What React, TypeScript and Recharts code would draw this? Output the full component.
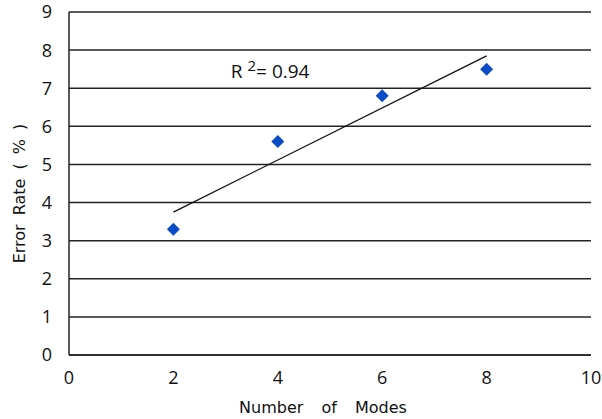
import React from "react";
import {
  ComposedChart,
  Scatter,
  XAxis,
  YAxis,
  CartesianGrid,
  ReferenceDot,
} from "recharts";

const modes = [2, 4, 6, 8];
const errorRates = [3.3, 5.6, 6.8, 7.5];
const trendX = [2, 8];
const trendY = [3.75, 7.85];
const xTicks = [0, 2, 4, 6, 8, 10];
const yTicks = [0, 1, 2, 3, 4, 5, 6, 7, 8, 9];
const r2Label = "0.94";
const r2Pos = { x: 3.1, y: 7.27 };

const points = modes.map((m, i) => ({ x: m, y: errorRates[i] }));
const trend = trendX.map((m, i) => ({ x: m, y: trendY[i] }));

const tickFont = { fontFamily: "'Open Sans', sans-serif", fontSize: 18, fill: "#111" };

const Diamond = (props: any) => {
  const { cx, cy, fill } = props;
  const h = 6.5;
  return (
    <polygon
      points={`${cx},${cy - h} ${cx + h},${cy} ${cx},${cy + h} ${cx - h},${cy}`}
      fill={fill}
    />
  );
};

const R2Text = (props: any) => {
  const { cx, cy } = props;
  return (
    <text x={cx} y={cy} fontFamily="'Open Sans', sans-serif" fontSize={19} fill="#111">
      <tspan>R </tspan>
      <tspan dy={-7} fontSize={15}>2</tspan>
      <tspan dy={7}>= {r2Label}</tspan>
    </text>
  );
};

const XTitle = (props: any) => {
  const { viewBox } = props;
  return (
    <text
      x={viewBox.x + viewBox.width / 2 - 7}
      y={413}
      textAnchor="middle"
      fontFamily="'DejaVu Sans', sans-serif"
      fontSize={16}
      fill="#111"
      style={{ wordSpacing: 13 }}
    >
      Number of Modes
    </text>
  );
};

const YTitle = (props: any) => {
  const { viewBox } = props;
  const cy = viewBox.y + viewBox.height / 2 + 10;
  return (
    <text
      x={25}
      y={cy}
      transform={`rotate(-90, 25, ${cy})`}
      textAnchor="middle"
      fontFamily="'DejaVu Sans', sans-serif"
      fontSize={16}
      fill="#111"
      style={{ wordSpacing: 4 }}
    >
      Error Rate ( % )
    </text>
  );
};

export default function App() {
  return (
    <div style={{ position: "absolute", left: 0, top: 0, background: "#fff" }}>
      <ComposedChart
        width={602}
        height={419}
        margin={{ top: 12, right: 11, bottom: 0, left: 0 }}
      >
        <CartesianGrid vertical={false} stroke="#222" strokeWidth={1.5} />
        <XAxis
          type="number"
          dataKey="x"
          domain={[0, 10]}
          ticks={xTicks}
          tickLine={false}
          axisLine={{ stroke: "#222", strokeWidth: 1.5 }}
          tick={tickFont}
          tickMargin={10}
          height={64}
          label={<XTitle />}
        />
        <YAxis
          type="number"
          dataKey="y"
          domain={[0, 9]}
          ticks={yTicks}
          tickLine={false}
          axisLine={{ stroke: "#222", strokeWidth: 1.5 }}
          tick={tickFont}
          tickMargin={11}
          width={69}
          label={<YTitle />}
        />
        <Scatter
          data={trend}
          line={{ stroke: "#111", strokeWidth: 1.3 }}
          shape={() => null}
          isAnimationActive={false}
        />
        <Scatter
          data={points}
          fill="#0a4cc8"
          shape={<Diamond />}
          legendType="none"
          isAnimationActive={false}
        />
        <ReferenceDot x={r2Pos.x} y={r2Pos.y} r={0} shape={<R2Text />} />
      </ComposedChart>
    </div>
  );
}
